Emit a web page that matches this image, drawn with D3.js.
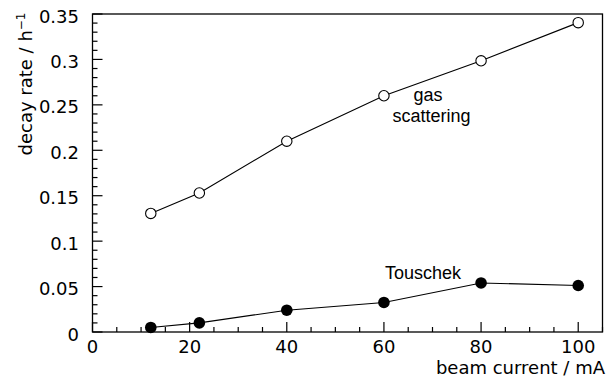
<!DOCTYPE html>
<html><head><meta charset="utf-8">
<script src="https://cdn.jsdelivr.net/npm/d3@7"></script>
<style>body{margin:0;background:#fff}svg{display:block}</style>
</head><body>
<svg id="c" width="613" height="381"></svg>
<script>
const current = [12, 22, 40, 60, 80, 100];
const gasScattering = [0.1305, 0.153, 0.210, 0.260, 0.2985, 0.3405];
const touschek = [0.005, 0.010, 0.024, 0.0325, 0.054, 0.0512];
const xTicks = [0, 20, 40, 60, 80, 100];
const yTicks = [0, 0.05, 0.1, 0.15, 0.2, 0.25, 0.3, 0.35];
const yTickLabels = ["0", "0.05", "0.1", "0.15", "0.2", "0.25", "0.3", "0.35"];

const svg = d3.select("#c");
const L = 92.5, R = 602.5, T = 14, B = 332;
const x = d3.scaleLinear().domain([0, 105]).range([L, R]);
const y = d3.scaleLinear().domain([0, 0.35]).range([B, T]);
const axisFont = "DejaVu Sans";

// frame
svg.append("rect").attr("x", L).attr("y", T).attr("width", R - L).attr("height", B - T)
  .attr("fill", "none").attr("stroke", "#000").attr("stroke-width", 1.3);

// x ticks
const xMinor = d3.range(0, 106, 5);
svg.append("g").selectAll("line").data(xMinor).join("line")
  .attr("x1", d => x(d)).attr("x2", d => x(d))
  .attr("y1", B).attr("y2", d => B - (d % 20 === 0 ? 10 : 5))
  .attr("stroke", "#000").attr("stroke-width", 1.2);
svg.append("g").selectAll("text").data(xTicks).join("text")
  .attr("x", d => x(d)).attr("y", 352.7).attr("text-anchor", "middle")
  .attr("font-family", axisFont).attr("font-size", 18).text(d => d);

// y ticks
const yMinor = d3.range(0, 36).map(i => i / 100);
svg.append("g").selectAll("line").data(yMinor).join("line")
  .attr("x1", L).attr("x2", (d, i) => L + (i % 5 === 0 ? 10 : 5))
  .attr("y1", d => y(d)).attr("y2", d => y(d))
  .attr("stroke", "#000").attr("stroke-width", 1.2);
svg.append("g").selectAll("text").data(yTicks).join("text")
  .attr("x", 79).attr("y", d => y(d) + 8.6).attr("text-anchor", "end")
  .attr("font-family", axisFont).attr("font-size", 18).text((d, i) => yTickLabels[i]);

// axis titles
svg.append("text").attr("x", 605).attr("y", 374).attr("text-anchor", "end")
  .attr("font-family", axisFont).attr("font-size", 18).text("beam current / mA");
const yl = svg.append("text").attr("transform", "translate(32,84) rotate(-90)")
  .attr("text-anchor", "middle").attr("font-family", axisFont).attr("font-size", 18);
yl.append("tspan").text("decay rate / h");
yl.append("tspan").attr("font-size", 12).attr("dy", -7).text("−1");

// lines
const line = d3.line().x((d, i) => x(current[i])).y(d => y(d));
svg.append("path").datum(gasScattering).attr("d", line).attr("fill", "none")
  .attr("stroke", "#000").attr("stroke-width", 1.1);
svg.append("path").datum(touschek).attr("d", line).attr("fill", "none")
  .attr("stroke", "#000").attr("stroke-width", 1.1);

svg.append("g").selectAll("circle").data(gasScattering).join("circle")
  .attr("cx", (d, i) => x(current[i])).attr("cy", d => y(d)).attr("r", 5.2)
  .attr("fill", "#fff").attr("stroke", "#000").attr("stroke-width", 1.1);
svg.append("g").selectAll("circle").data(touschek).join("circle")
  .attr("cx", (d, i) => x(current[i])).attr("cy", d => y(d)).attr("r", 5.8)
  .attr("fill", "#000");

// labels
const lf = "Liberation Sans";
svg.append("text").attr("x", 385).attr("y", 278.5).attr("font-family", lf)
  .attr("font-size", 18).text("Touschek");
svg.append("text").attr("x", 428).attr("y", 101).attr("text-anchor", "middle")
  .attr("font-family", lf).attr("font-size", 18).text("gas");
svg.append("text").attr("x", 431.5).attr("y", 121.5).attr("text-anchor", "middle")
  .attr("font-family", lf).attr("font-size", 18).text("scattering");
</script>
</body></html>
